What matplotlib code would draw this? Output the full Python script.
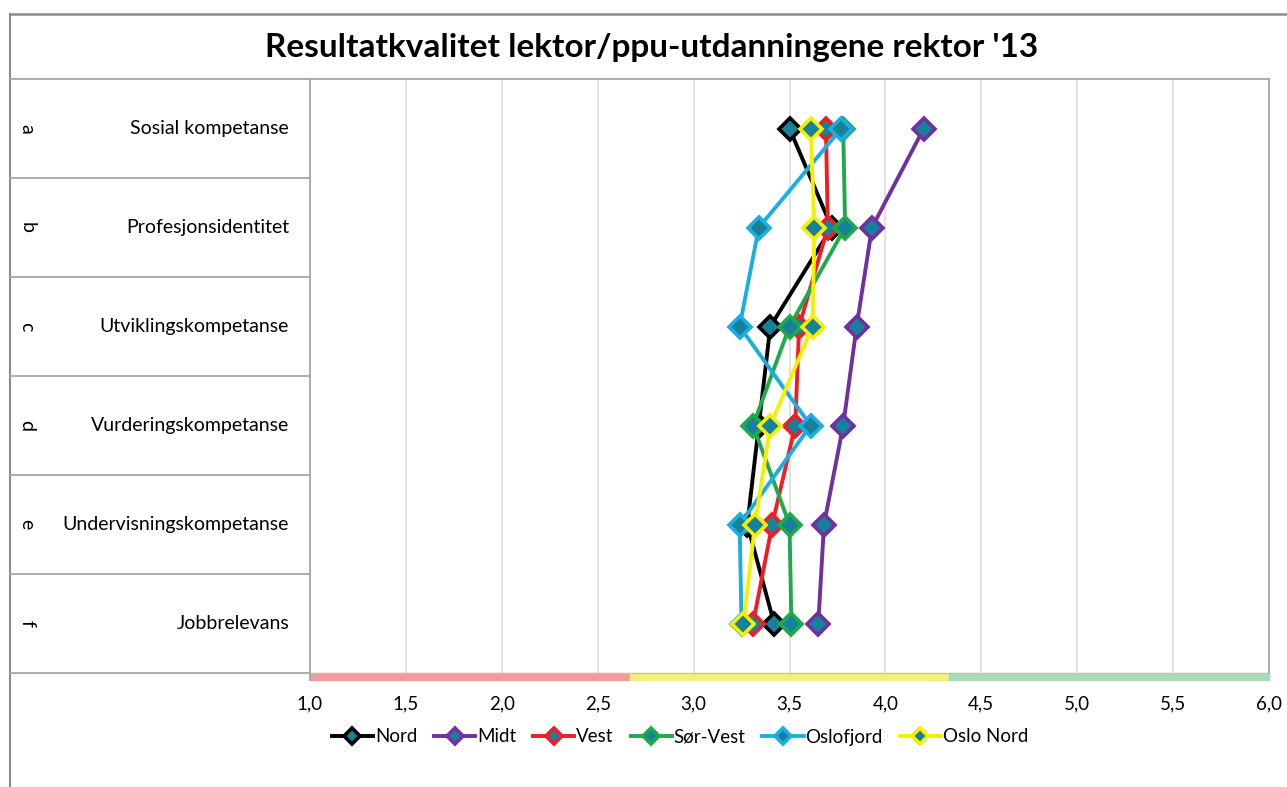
import matplotlib.pyplot as plt
from matplotlib.lines import Line2D
from matplotlib.patches import Rectangle
from matplotlib.transforms import blended_transform_factory

plt.rcParams['font.family'] = ['Lato', 'DejaVu Sans']

# data
letters = ['a', 'b', 'c', 'd', 'e', 'f']
categories = ['Sosial kompetanse', 'Profesjonsidentitet', 'Utviklingskompetanse',
              'Vurderingskompetanse', 'Undervisningskompetanse', 'Jobbrelevans']
series = ['Nord', 'Midt', 'Vest', 'Sør-Vest', 'Oslofjord', 'Oslo Nord']
nord = [3.50, 3.72, 3.40, 3.34, 3.28, 3.42]
midt = [4.20, 3.93, 3.85, 3.78, 3.68, 3.65]
vest = [3.69, 3.70, 3.55, 3.53, 3.41, 3.31]
sor_vest = [3.78, 3.79, 3.50, 3.31, 3.50, 3.51]
oslofjord = [3.77, 3.34, 3.24, 3.61, 3.24, 3.25]
oslo_nord = [3.61, 3.63, 3.62, 3.40, 3.32, 3.26]
values = [nord, midt, vest, sor_vest, oslofjord, oslo_nord]
colors = ['#000000', '#7030A0', '#F01E23', '#1EAA4B', '#1AAEE2', '#F5F000']
band_edges = [1.0, 1 + 5 / 3, 1 + 10 / 3, 6.0]
band_colors = ['#F29B9B', '#F6EE7C', '#A9DBB8']
xticks = [1.0, 1.5, 2.0, 2.5, 3.0, 3.5, 4.0, 4.5, 5.0, 5.5, 6.0]

W, H = 1287, 787
fig = plt.figure(figsize=(W / 100, H / 100), dpi=100)


def fx(x):
    return x / W


def fy(y):
    return 1 - y / H


ax = fig.add_axes([fx(310), fy(673), fx(1269) - fx(310), fy(79) - fy(673)])

ypos = list(range(len(categories)))
for name, vals, c in zip(series, values, colors):
    ax.plot(vals, ypos, color=c, lw=2.8, marker='D', ms=11.5, mfc='#17809B',
            mec=c, mew=2.6, label=name, zorder=3)

ax.set_xlim(1, 6)
ax.set_ylim(len(categories) - 0.5, -0.5)
ax.set_xticks(xticks)
ax.set_xticklabels([f'{t:.1f}'.replace('.', ',') for t in xticks], fontsize=13.5)
ax.set_yticks([])
ax.grid(axis='x', color='#D9D9D9', lw=1.1, zorder=0)
ax.tick_params(axis='x', length=5, color='#BFBFBF', pad=11)
for s in ['top', 'right', 'left']:
    ax.spines[s].set_color('#A6A6A6')
    ax.spines[s].set_linewidth(1.3)
ax.spines['bottom'].set_color('#BFBFBF')

# coloured band under the axis
xt = ax.get_xaxis_transform()
for i in range(3):
    ax.add_patch(Rectangle((band_edges[i], -0.012), band_edges[i + 1] - band_edges[i], 0.012,
                           transform=xt, color=band_colors[i], clip_on=False, zorder=2))

# left table with category labels
gray = '#A6A6A6'
fig.add_artist(Line2D([fx(10), fx(10)], [fy(14), 0], color='#8C8C8C', lw=1.5))
fig.add_artist(Line2D([fx(10), 1], [fy(14), fy(14)], color='#8C8C8C', lw=1.8))
fig.add_artist(Line2D([fx(10), fx(310)], [fy(79), fy(79)], color=gray, lw=1.3))
fig.add_artist(Line2D([fx(310), fx(310)], [fy(673), fy(680)], color=gray, lw=1.3))
tr = blended_transform_factory(fig.transFigure, ax.transData)
for i in range(len(categories)):
    fig.add_artist(Line2D([fx(10), fx(310)], [i + 0.5, i + 0.5], color=gray, lw=1.3,
                          transform=tr))
    fig.text(fx(289), i, categories[i], transform=tr, ha='right', va='center', fontsize=14)
    fig.text(fx(27), i, letters[i], transform=tr, ha='center', va='center', fontsize=14,
             rotation=270)

fig.text(fx(652), fy(48), "Resultatkvalitet lektor/ppu-utdanningene rektor '13",
         ha='center', va='center', fontsize=24, fontweight='bold')

fig.legend(loc='center', bbox_to_anchor=(fx(680), fy(737)), ncol=6, frameon=False,
           fontsize=13.5, handlelength=2.2, handletextpad=0.1, columnspacing=0.9,
           markerscale=0.7)

fig.savefig('out.png', dpi=100)
